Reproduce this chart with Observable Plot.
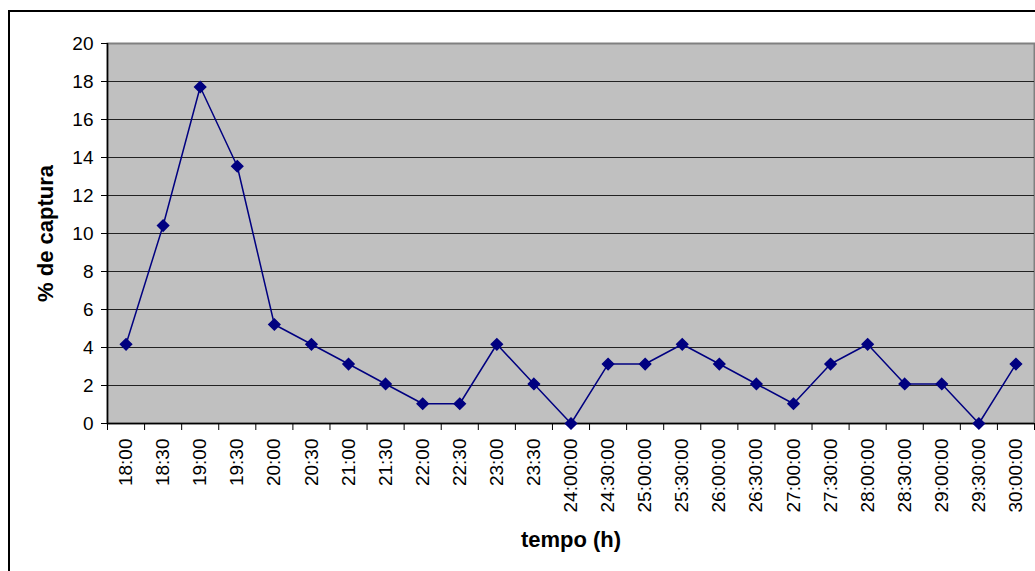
<!DOCTYPE html>
<html>
<head>
<meta charset="utf-8">
<script src="https://cdn.jsdelivr.net/npm/d3@7"></script>
<script src="https://cdn.jsdelivr.net/npm/@observablehq/plot@0.6"></script>
<style>
  html, body { margin: 0; padding: 0; background: #fff; overflow: hidden; }
  #wrap { position: relative; width: 1035px; height: 571px; overflow: hidden; }
  #border { position: absolute; left: 8px; top: 10px; width: 1060px; height: 600px; border: 2px solid #000; box-sizing: border-box; pointer-events: none; }
</style>
</head>
<body>
<div id="wrap"><div id="border"></div><div id="chart"></div></div>
<script>
const categories = ["18:00","18:30","19:00","19:30","20:00","20:30","21:00","21:30","22:00","22:30","23:00","23:30","24:00:00","24:30:00","25:00:00","25:30:00","26:00:00","26:30:00","27:00:00","27:30:00","28:00:00","28:30:00","29:00:00","29:30:00","30:00:00"];
const captura = [4.17,10.42,17.71,13.54,5.21,4.17,3.13,2.08,1.04,1.04,4.17,2.08,0,3.13,3.13,4.17,3.13,2.08,1.04,3.13,4.17,2.08,2.08,0,3.13];
const yTicks = [0,2,4,6,8,10,12,14,16,18,20];

const data = categories.map((c, i) => ({i: i + 0.5, cat: c, v: captura[i]}));
const boundaries = d3.range(0, categories.length + 1);
const font = "'Liberation Sans', Arial, sans-serif";

const chart = Plot.plot({
  width: 1035,
  height: 571,
  marginLeft: 107,
  marginRight: 1,
  marginTop: 43,
  marginBottom: 148,
  style: {fontFamily: font, background: "transparent", overflow: "visible"},
  x: {domain: [0, categories.length]},
  y: {domain: [0, 20]},
  marks: [
    Plot.frame({fill: "#C0C0C0", stroke: "#808080", strokeWidth: 2}),
    Plot.ruleY(yTicks.filter(t => t > 0 && t < 20), {stroke: "#222", strokeWidth: 1.2}),
    Plot.axisY({ticks: yTicks, tickSize: 6, tickFormat: () => "", stroke: "#000", label: null}),
    Plot.text(yTicks, {y: d => d, text: d => String(d), frameAnchor: "left", dx: -14, textAnchor: "end", fontSize: 19, fill: "#000"}),
    Plot.axisX({ticks: boundaries, tickSize: 7, tickFormat: () => "", label: null, stroke: "#000"}),
    Plot.ruleY([0], {stroke: "#000", strokeWidth: 1.5}),
    Plot.ruleX([0], {stroke: "#000", strokeWidth: 1.5}),
    Plot.text(data, {x: "i", y: 0, text: "cat", rotate: -90, textAnchor: "end", dy: 15, fontSize: 19, fill: "#000"}),
    Plot.line(data, {x: "i", y: "v", stroke: "#000080", strokeWidth: 1.5}),
    Plot.dot(data, {x: "i", y: "v", symbol: "diamond2", r: 5, fill: "#000080", stroke: "#000080"}),
    Plot.text(["tempo (h)"], {frameAnchor: "bottom", dy: 123, textAnchor: "middle", fontSize: 22, fontWeight: "bold", fill: "#000"}),
    Plot.text(["% de captura"], {frameAnchor: "left", dx: -62, textAnchor: "middle", rotate: -90, fontSize: 22, fontWeight: "bold", fill: "#000"})
  ]
});
document.getElementById("chart").appendChild(chart);
</script>
</body>
</html>
